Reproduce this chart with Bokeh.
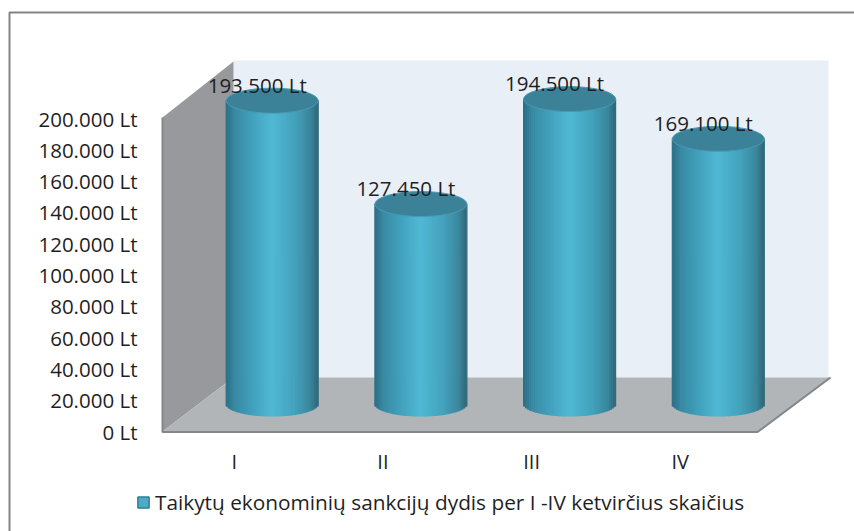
from bokeh.plotting import figure
from bokeh.models import Legend, LegendItem, FixedTicker, Range1d
from bokeh.embed import file_html
from bokeh.resources import INLINE
from bokeh.core.properties import value

categories = ["I", "II", "III", "IV"]
values = [193500, 127450, 194500, 169100]
value_labels = ["193.500 Lt", "127.450 Lt", "194.500 Lt", "169.100 Lt"]
y_ticks = [0, 20000, 40000, 60000, 80000, 100000, 120000, 140000, 160000, 180000, 200000]
y_labels = ["0 Lt", "20.000 Lt", "40.000 Lt", "60.000 Lt", "80.000 Lt", "100.000 Lt",
            "120.000 Lt", "140.000 Lt", "160.000 Lt", "180.000 Lt", "200.000 Lt"]
series_name = "Taikytų ekonominių sankcijų dydis per I -IV ketvirčius skaičius"

FONT = "Open Sans"
TXT = "#1f1f1f"
W, H = 854, 531
F_L, F_R, F_T, F_B = 0, 854, 0, 531   # frame in picture pixels
PX_PER_CAT = 148.7
X0_PX = 271.7
PX_PER_VAL = 313 / 200000
Y0_PX = 431

def dx(px):   # horizontal pixels to data
    return px / PX_PER_CAT
def dy(px):   # vertical pixels to data
    return px / PX_PER_VAL
def X(px):
    return (px - X0_PX) / PX_PER_CAT
def Y(px):
    return (Y0_PX - px) / PX_PER_VAL

p = figure(width=W, height=H, output_backend="svg", toolbar_location=None,
           x_range=Range1d(X(F_L), X(F_R)), y_range=Range1d(Y(F_B), Y(F_T)),
           frame_width=F_R - F_L, frame_height=F_B - F_T,
           min_border_left=0, min_border_right=0, min_border_top=0, min_border_bottom=0,
           background_fill_color="white", border_fill_color="white")
p.grid.visible = False
p.outline_line_color = None

# outer frame of the picture
p.line([X(9), X(9), X(854)], [Y(531), Y(12), Y(12)], line_color="#838383", line_width=2)

# chart walls and floor
p.patch([X(233), X(828), X(828), X(233)], [Y(60), Y(60), Y(377), Y(377)],
        fill_color="#e8eff6", line_color=None)
p.patch([X(162), X(233), X(233), X(162)], [Y(117), Y(61), Y(377), Y(431)],
        fill_color="#97999c", line_color=None)
p.patch([X(162), X(757), X(830), X(233)], [Y(431), Y(431), Y(377), Y(377)],
        fill_color="#b1b5b8", line_color=None)
p.line([X(162), X(162), X(757), X(830)], [Y(117), Y(431.5), Y(431.5), Y(377)],
       line_color="#84878a", line_width=2)

# legend key (zero-sized on the plot, drawn in the legend)
BASE = dy(28)
key = p.quad(left=[0], right=[0], top=[BASE], bottom=[BASE], fill_color="#4bacc6",
             line_color="#2f7d95", line_width=1.5)

# cylinders: vertical colour strips plus a cap
BAR_W = 92
RY = 12.5
stops = [(0.0, (42, 110, 132)), (0.1, (56, 138, 163)), (0.3, (66, 162, 190)), (0.5, (80, 185, 213)),
         (0.75, (68, 162, 188)), (0.92, (58, 134, 156)), (1.0, (48, 104, 120))]
def col(t):
    for (a, ca), (b, cb) in zip(stops, stops[1:]):
        if t <= b:
            f = (t - a) / (b - a)
            return "#%02x%02x%02x" % tuple(round(u + (v - u) * f) for u, v in zip(ca, cb))
    return "#306878"

n = 46
sl, sr, st, sb, sc = [], [], [], [], []
for i, v in enumerate(values):
    for k in range(n):
        t0 = k / n
        t1 = (k + 1) / n
        tm = (t0 + t1) / 2
        sag = RY * (1 - (2 * tm - 1) ** 2) ** 0.5
        sl.append(i + dx(BAR_W * (t0 - 0.5)))
        sr.append(i + dx(BAR_W * (t1 - 0.5)))
        st.append(v + BASE)
        sb.append(BASE - dy(sag))
        sc.append(col(tm))
p.quad(left=sl, right=sr, top=st, bottom=sb, fill_color=sc, line_color=sc, line_width=1.2)

xs = list(range(len(values)))
p.ellipse(x=xs, y=[v + BASE for v in values], width=dx(BAR_W), height=dy(2 * RY),
          fill_color="#3b8299", line_color="#4a9ab3", line_width=1)

# value labels
p.text(x=[x + dx(-15) for x in xs], y=[v + BASE + dy(16) for v in values], text=value_labels,
       text_font=value(FONT), text_font_size="20.5px", text_color=TXT,
       text_align="center", text_baseline="middle")

# axes: labels pulled into the frame with negative standoffs
ax = p.yaxis[0]
ax.ticker = FixedTicker(ticks=y_ticks)
ax.major_label_overrides = dict(zip(y_ticks, y_labels))
ax.axis_line_color = None
ax.major_tick_line_color = None
ax.minor_tick_line_color = None
ax.major_label_standoff = -(143 - F_L)
ax.major_label_text_font = FONT
ax.major_label_text_font_size = "20.5px"
ax.major_label_text_color = TXT

bx = p.xaxis[0]
lab_off = dx(-38)
bx.ticker = FixedTicker(ticks=[x + lab_off for x in xs])
bx.major_label_overrides = {x + lab_off: c for x, c in zip(xs, categories)}
bx.axis_line_color = None
bx.major_tick_line_color = None
bx.minor_tick_line_color = None
bx.major_label_standoff = -(F_B - 441)
bx.major_label_text_font = FONT
bx.major_label_text_font_size = "20px"
bx.major_label_text_color = TXT

# legend
leg = Legend(items=[LegendItem(label=series_name, renderers=[key])], location=(136 - F_L, 15),
             border_line_color=None, background_fill_alpha=0, margin=0, padding=0,
             glyph_width=14, glyph_height=14, label_standoff=5,
             label_text_font=FONT, label_text_font_size="20.8px", label_text_color=TXT)
p.add_layout(leg, "center")

open("out.html", "w").write(file_html(p, INLINE))
